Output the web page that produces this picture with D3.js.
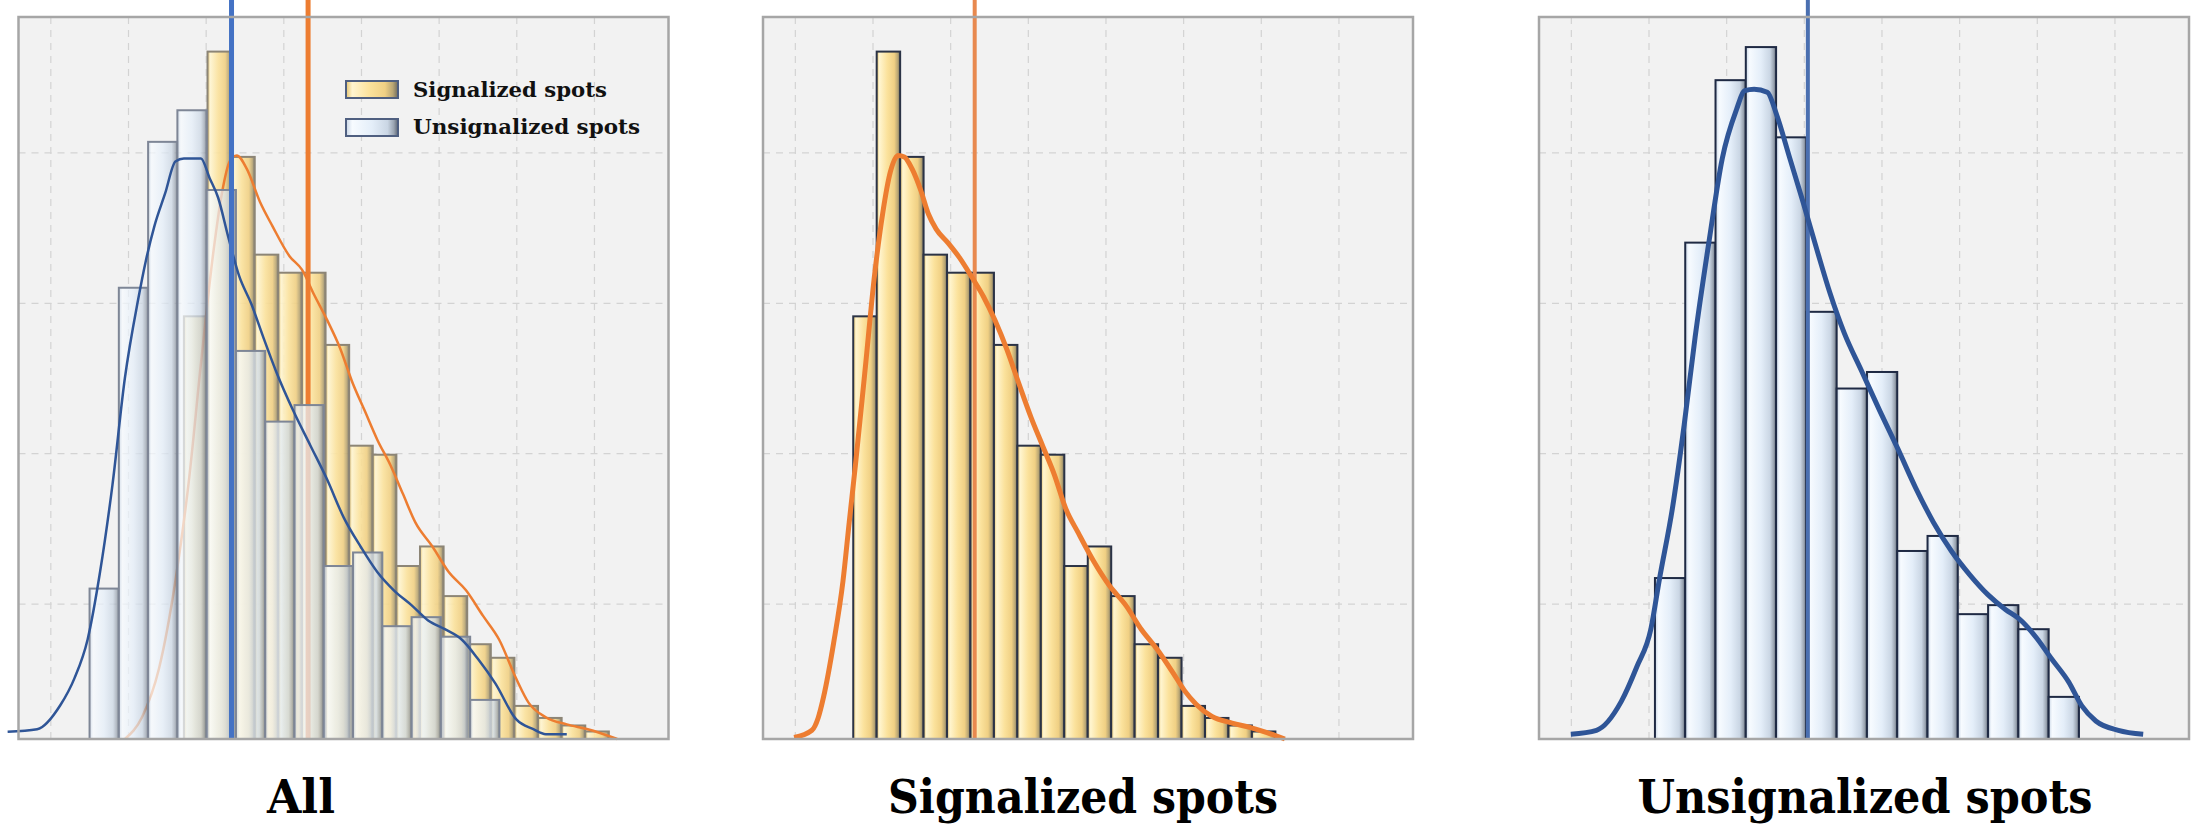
<!DOCTYPE html>
<html>
<head>
<meta charset="utf-8">
<script src="https://cdn.jsdelivr.net/npm/d3@7"></script>
<style>
  body { margin: 0; background: #fff; }
  svg { display: block; }
</style>
</head>
<body>
<div id="chart"></div>
<script>
// ---- data ----
const titles = ["All", "Signalized spots", "Unsignalized spots"];
const legendLabels = ["Signalized spots", "Unsignalized spots"];
const xTicks = [0, 1, 2, 3, 4, 5, 6, 7];
const yTicks = [9, 19, 29, 39];

// bar heights (same for panel 1 and 2)
const sigCounts = [28.1, 45.7, 38.7, 32.2, 31.0, 31.0, 26.2, 19.5, 18.9, 11.5, 12.8, 9.5, 6.3, 5.4, 2.2, 1.4, 0.9, 0.5];
const unsigCounts = [10.7, 33.0, 43.8, 46.0, 40.0, 28.4, 23.3, 24.4, 12.5, 13.5, 8.3, 8.9, 7.3, 2.8];
const unsigCountsAll = [10.0, 30.0, 39.7, 41.8, 36.5, 25.8, 21.1, 22.2, 11.5, 12.4, 7.5, 8.1, 6.8, 2.6];

// first bin start and bin width, in axis units
const sigBins = [0.752, 0.302];
const unsigBins = [1.083, 0.39];
const sigBinsAll = [1.72, 0.304];
const unsigBinsAll = [0.505, 0.377];

// density curves [x, y]
const sigCurve = [[-0.01,0.1],[0.22,0.58],[0.3,1.4],[0.37,2.8],[0.5,6.4],[0.62,10.5],[0.7,14.4],[0.78,18.2],[0.9,24.3],[1.03,31.0],[1.13,34.9],[1.23,37.7],[1.33,38.8],[1.41,38.7],[1.51,37.9],[1.62,36.5],[1.72,34.9],[1.82,33.9],[1.97,33.0],[2.12,32.0],[2.28,30.7],[2.43,29.4],[2.58,27.8],[2.73,25.9],[2.88,23.7],[3.04,21.4],[3.19,19.5],[3.34,17.6],[3.49,15.3],[3.65,13.7],[3.85,11.8],[4.05,10.2],[4.26,8.9],[4.46,7.3],[4.66,6.0],[4.87,4.4],[5.02,3.2],[5.17,2.3],[5.37,1.5],[5.63,1.06],[5.88,0.74],[6.08,0.42],[6.31,0]];
const unsigCurve = [[0,0.32],[0.33,0.58],[0.65,2.5],[0.85,4.8],[1.03,7.3],[1.14,10.6],[1.31,15.4],[1.46,20.9],[1.6,26.7],[1.78,33.1],[1.95,38.6],[2.13,41.8],[2.24,43.1],[2.36,43.2],[2.53,43.0],[2.65,41.5],[2.82,38.6],[2.99,35.7],[3.17,32.5],[3.34,29.6],[3.52,27.0],[3.75,24.4],[3.98,21.8],[4.21,19.3],[4.44,16.7],[4.67,14.4],[4.9,12.5],[5.14,10.9],[5.37,9.6],[5.6,8.6],[5.77,8.0],[6.0,6.7],[6.18,5.4],[6.41,3.8],[6.58,2.2],[6.76,1.2],[7.05,0.58],[7.37,0.32]];
const sigCurveAll = [[0.96,0],[1.18,1.45],[1.4,4.7],[1.61,10.5],[1.78,17.0],[1.94,25.0],[2.1,32.4],[2.21,36.3],[2.31,38.4],[2.4,38.8],[2.53,37.9],[2.7,35.7],[2.86,34.1],[3.08,32.1],[3.24,31.2],[3.4,29.5],[3.56,27.9],[3.73,26.0],[3.89,23.7],[4.05,21.8],[4.21,19.9],[4.38,18.2],[4.54,16.3],[4.7,14.4],[4.92,12.8],[5.13,11.1],[5.35,9.9],[5.57,8.2],[5.78,6.6],[6.0,4.0],[6.16,2.4],[6.38,1.45],[6.65,0.97],[6.92,0.65],[7.3,0]];
const unsigCurveAll = [[-0.55,0.48],[-0.17,0.65],[0.13,2.26],[0.31,4.03],[0.48,6.62],[0.64,11.1],[0.8,16.9],[0.96,24.0],[1.13,29.2],[1.23,31.8],[1.34,34.1],[1.48,36.3],[1.61,38.4],[1.72,38.6],[1.94,38.6],[2.05,37.3],[2.16,36.0],[2.29,33.4],[2.43,30.8],[2.59,28.9],[2.75,26.6],[2.91,24.4],[3.13,21.8],[3.35,19.5],[3.56,17.3],[3.78,14.7],[4.0,12.75],[4.21,11.1],[4.43,9.85],[4.65,8.9],[4.86,7.9],[5.08,7.3],[5.3,6.6],[5.51,5.3],[5.73,3.7],[6.0,1.3],[6.22,0.65],[6.38,0.32],[6.65,0.32]];

// mean lines
const sigMean = 2.316, unsigMean = 3.052;
const sigMeanAll = 3.319, unsigMeanAll = 2.333;

// ---- layout ----
const panelLeft = [18.5, 763, 1539];
const panelTop = 17, pw = 650, ph = 722;

const svg = d3.select("#chart").append("svg")
    .attr("width", 2206)
    .attr("height", 835);

const defs = svg.append("defs");
function addGradient(id, stops) {
    const gr = defs.append("linearGradient").attr("id", id)
        .attr("x1", "0").attr("x2", "1").attr("y1", "0").attr("y2", "0");
    stops.forEach(s => gr.append("stop").attr("offset", s[0]).attr("stop-color", s[1]));
}
addGradient("gradSig", [[0, "#E6C46E"], [0.12, "#FFF5D0"], [0.45, "#FBE29C"], [0.75, "#F0D084"], [0.9, "#B9A674"], [1, "#6E6A5E"]]);
addGradient("gradUnsig", [[0, "#C9D6E6"], [0.12, "#F7FBFF"], [0.5, "#E4EEF9"], [0.8, "#CAD6E4"], [0.92, "#9AA4B1"], [1, "#5B6472"]]);

const x = d3.scaleLinear().domain([-0.41, 7.96]).range([0, pw]);
const y = d3.scaleLinear().domain([0, 48]).range([ph, 0]);

function drawPanel(i) {
    const g = svg.append("g").attr("transform", `translate(${panelLeft[i]},${panelTop})`);

    g.append("rect")
        .attr("width", pw).attr("height", ph)
        .attr("fill", "#F2F2F2");

    // grid
    const gy = g.append("g")
        .call(d3.axisLeft(y).tickValues(yTicks).tickSize(-pw).tickFormat(""));
    const gx = g.append("g")
        .attr("transform", `translate(0,${ph})`)
        .call(d3.axisBottom(x).tickValues(xTicks).tickSize(-ph).tickFormat(""));
    [gx, gy].forEach(a => {
        a.select(".domain").remove();
        a.selectAll("line")
            .attr("stroke", "#D3D3D3")
            .attr("stroke-width", 1.2)
            .attr("stroke-dasharray", "7,6");
    });
    return g;
}

function drawBars(g, counts, bins, grad, stroke, opacity) {
    g.append("g").selectAll("rect")
        .data(counts)
        .enter().append("rect")
        .attr("x", (d, k) => x(bins[0] + k * bins[1]))
        .attr("y", d => y(d))
        .attr("width", x(bins[1]) - x(0))
        .attr("height", d => y(0) - y(d))
        .attr("fill", `url(#${grad})`)
        .attr("fill-opacity", opacity)
        .attr("stroke", stroke)
        .attr("stroke-width", 2);
}

function drawCurve(g, pts, color, w) {
    g.append("path")
        .datum(pts)
        .attr("d", d3.line()
            .x(d => x(d[0]))
            .y(d => y(d[1]))
            .curve(d3.curveMonotoneX))
        .attr("fill", "none")
        .attr("stroke", color)
        .attr("stroke-width", w)
        .attr("stroke-linejoin", "round");
}

function drawMean(g, v, color, w, y0) {
    g.append("line")
        .attr("x1", x(v)).attr("x2", x(v))
        .attr("y1", y0).attr("y2", ph)
        .attr("stroke", color)
        .attr("stroke-width", w);
}

function drawFrame(g) {
    g.append("rect")
        .attr("width", pw).attr("height", ph)
        .attr("fill", "none")
        .attr("stroke", "#A6A6A6")
        .attr("stroke-width", 2.5);
}

// panel 1: All
const p1 = drawPanel(0);
drawBars(p1, sigCounts, sigBinsAll, "gradSig", "#8C8576", 0.9);
drawCurve(p1, sigCurveAll, "#ED7D31", 2.5);
drawMean(p1, sigMeanAll, "#ED7D31", 5, -panelTop);
drawBars(p1, unsigCountsAll, unsigBinsAll, "gradUnsig", "#7E8696", 0.72);
drawCurve(p1, unsigCurveAll, "#2F5597", 2.5);
drawMean(p1, unsigMeanAll, "#4472C4", 5, -panelTop);
drawFrame(p1);

// legend
const legend = svg.append("g");
const legendGrad = ["gradSig", "gradUnsig"];
legendLabels.forEach((lab, k) => {
    legend.append("rect")
        .attr("x", 346).attr("y", 81 + k * 38)
        .attr("width", 52).attr("height", 17)
        .attr("fill", `url(#${legendGrad[k]})`)
        .attr("stroke", "#4F5F80")
        .attr("stroke-width", 2);
    legend.append("text")
        .attr("x", 413).attr("y", 97 + k * 37)
        .attr("font-family", "'DejaVu Serif', serif")
        .attr("font-weight", "bold")
        .attr("font-size", 20)
        .attr("textLength", k === 0 ? 194 : 227)
        .attr("lengthAdjust", "spacingAndGlyphs")
        .attr("fill", "#111")
        .text(lab);
});

// panel 2: Signalized spots
const p2 = drawPanel(1);
drawBars(p2, sigCounts, sigBins, "gradSig", "#2B3346", 1);
drawMean(p2, sigMean, "#E8894F", 4, -panelTop);
drawCurve(p2, sigCurve, "#ED7D31", 5);
drawFrame(p2);

// panel 3: Unsignalized spots
const p3 = drawPanel(2);
drawBars(p3, unsigCounts, unsigBins, "gradUnsig", "#1F2A44", 1);
drawMean(p3, unsigMean, "#4A6FB0", 4, -panelTop);
drawCurve(p3, unsigCurve, "#2F5597", 5);
drawFrame(p3);

// titles
const titleX = [301, 1083, 1865];
const titleW = [68, 390, 455];
titles.forEach((t, k) => {
    svg.append("text")
        .attr("x", titleX[k]).attr("y", 813)
        .attr("text-anchor", "middle")
        .attr("font-family", "'DejaVu Serif Condensed', 'DejaVu Serif', serif")
        .attr("font-stretch", "condensed")
        .attr("font-weight", "bold")
        .attr("font-size", 46)
        .attr("textLength", titleW[k])
        .attr("lengthAdjust", "spacingAndGlyphs")
        .attr("fill", "#000")
        .text(t);
});
</script>
</body>
</html>
